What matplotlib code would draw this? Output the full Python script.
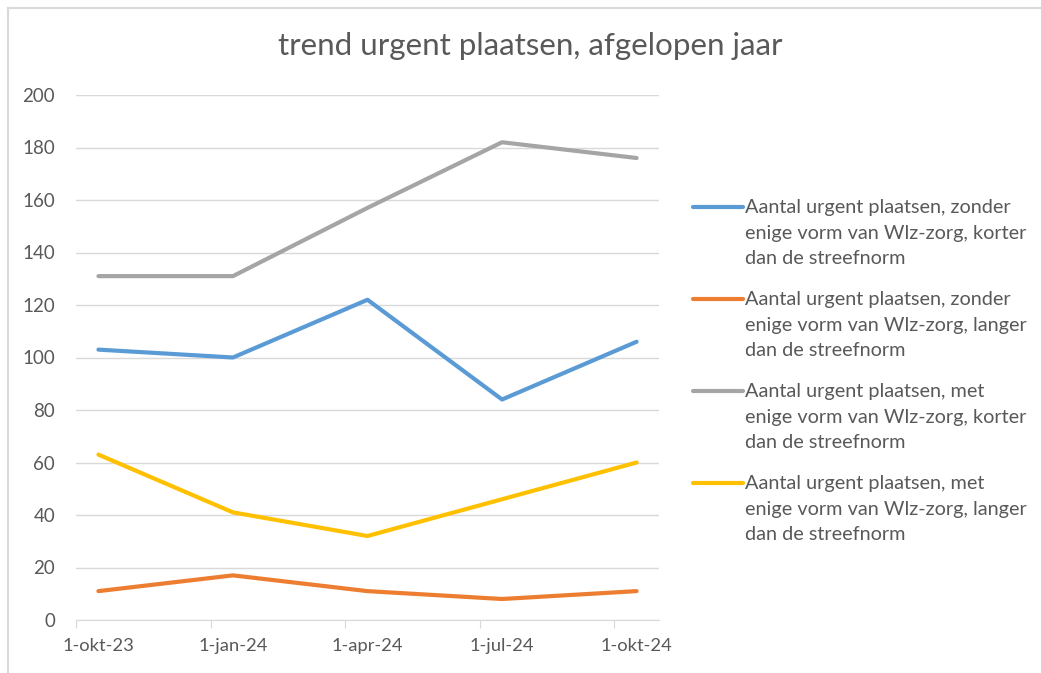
import matplotlib
matplotlib.use('Agg')
import matplotlib.pyplot as plt
from matplotlib.lines import Line2D
from datetime import date

# data
dates = [date(2023, 10, 1), date(2024, 1, 1), date(2024, 4, 1), date(2024, 7, 1), date(2024, 10, 1)]
date_labels = ['1-okt-23', '1-jan-24', '1-apr-24', '1-jul-24', '1-okt-24']
zonder_korter = [103, 100, 122, 84, 106]
zonder_langer = [11, 17, 11, 8, 11]
met_korter = [131, 131, 157, 182, 176]
met_langer = [63, 41, 32, 46, 60]

labels = [
    'Aantal urgent plaatsen, zonder\nenige vorm van Wlz-zorg, korter\ndan de streefnorm',
    'Aantal urgent plaatsen, zonder\nenige vorm van Wlz-zorg, langer\ndan de streefnorm',
    'Aantal urgent plaatsen, met\nenige vorm van Wlz-zorg, korter\ndan de streefnorm',
    'Aantal urgent plaatsen, met\nenige vorm van Wlz-zorg, langer\ndan de streefnorm',
]
colors = ['#5B9BD5', '#ED7D31', '#A5A5A5', '#FFC000']

plt.rcParams['font.family'] = ['Lato', 'DejaVu Sans']
txt = '#595959'
W, H = 1041, 673

# excel date axis: one slot per month, points sit in the middle of their month
start = dates[0]
months = [(d.year - start.year) * 12 + d.month - start.month for d in dates]
x = [m + 0.5 for m in months]

fig = plt.figure(figsize=(W / 100, H / 100), dpi=100)
ax = fig.add_axes([76 / W, 1 - 620 / H, (659 - 76) / W, (620 - 95) / H])

series_all = [zonder_korter, zonder_langer, met_korter, met_langer]
for series, c in zip(series_all, colors):
    ax.plot(x, series, color=c, linewidth=3.0, solid_capstyle='round')

ax.set_xlim(0, months[-1] + 1)
ax.set_ylim(0, 200)
ax.set_yticks(range(0, 201, 20))
ax.set_xticks(months)
ax.set_xticklabels([])
ax.set_xticks(x, minor=True)
ax.set_xticklabels(date_labels, minor=True)
ax.tick_params(axis='x', which='major', length=6, color='#D9D9D9', direction='out')
ax.tick_params(axis='x', which='minor', length=0, pad=13, labelsize=13.2, labelcolor=txt)
ax.tick_params(axis='y', length=0, pad=15, labelsize=13.5, labelcolor=txt)
ax.grid(axis='y', color='#D9D9D9', linewidth=1)
ax.set_axisbelow(True)
for s in ['top', 'right', 'left']:
    ax.spines[s].set_visible(False)
ax.spines['bottom'].set_color('#D9D9D9')

fig.text(530 / W, 1 - 46 / H, 'trend urgent plaatsen, afgelopen jaar',
         ha='center', va='center', fontsize=22.6, color=txt)

# legend, excel style: key line next to the first text line
y0, step, line_gap = 207, 92, 26
for i, (c, lab) in enumerate(zip(colors, labels)):
    yy = y0 + i * step
    fig.add_artist(Line2D([693 / W, 743 / W], [1 - yy / H, 1 - yy / H], color=c, lw=3.0,
                          solid_capstyle='round'))
    fig.text(745 / W, 1 - (yy + line_gap) / H, lab, ha='left', va='center',
             fontsize=14.3, color=txt, linespacing=1.64)

# chart border (only left and top edges are in view)
fig.add_artist(Line2D([7.5 / W, 7.5 / W], [0, 1 - 7.5 / H], color='#D9D9D9', lw=1.5))
fig.add_artist(Line2D([7.5 / W, 1], [1 - 7.5 / H, 1 - 7.5 / H], color='#D9D9D9', lw=1.5))

fig.savefig('out.png', dpi=100)
